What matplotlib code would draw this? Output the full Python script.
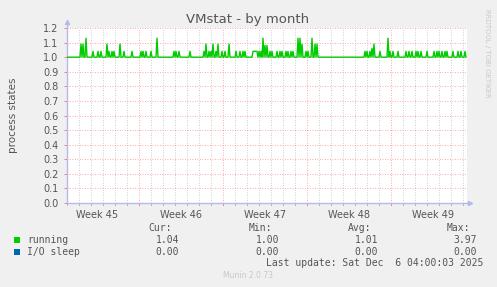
import numpy as np
import matplotlib
matplotlib.use('Agg')
import matplotlib.pyplot as plt

# month graph: 400 samples of 2h, baseline value 1.0, spikes below
n_samples = 400
baseline = 1.0
spike_idx = [14, 16, 19, 26, 31, 34, 40, 42, 45, 47, 53, 57, 65, 74, 76, 79, 84, 90,
             107, 109, 112, 123, 137, 139, 142, 144, 146, 149, 151, 155, 158, 162,
             169, 173, 176, 178, 186, 187, 188, 189, 190, 192, 194, 196, 198, 200,
             203, 205, 210, 213, 215, 219, 221, 224, 226, 231, 233, 235, 239, 241,
             245, 248, 250, 298, 300, 303, 305, 307, 313, 321, 323, 326, 331, 339,
             342, 345, 349, 351, 354, 360, 367, 370, 372, 375, 378, 380, 386, 391,
             394, 398]
spike_val = [1.09, 1.09, 1.13, 1.04, 1.04, 1.04, 1.09, 1.04, 1.04, 1.04, 1.09, 1.04, 1.04, 1.04, 1.04, 1.04, 1.04, 1.13,
             1.04, 1.04, 1.04, 1.04, 1.04, 1.09, 1.04, 1.04, 1.09, 1.04, 1.09, 1.04, 1.04, 1.09,
             1.04, 1.04, 1.04, 1.04, 1.04, 1.04, 1.04, 1.04, 1.04, 1.04, 1.04, 1.13, 1.08, 1.08,
             1.04, 1.04, 1.04, 1.04, 1.04, 1.04, 1.04, 1.04, 1.04, 1.13, 1.13, 1.09, 1.04, 1.04,
             1.13, 1.09, 1.09, 1.04, 1.04, 1.04, 1.06, 1.09, 1.04, 1.13, 1.04, 1.04, 1.04, 1.04,
             1.04, 1.04, 1.04, 1.04, 1.04, 1.04, 1.04, 1.04, 1.04, 1.04, 1.04, 1.04, 1.04, 1.04,
             1.04, 1.04]
sleep_val = 0.0

week_labels = ['Week 45', 'Week 46', 'Week 47', 'Week 48', 'Week 49']
week_starts = [72, 156, 240, 324]
week_mids = [30, 114, 198, 282, 366]

legend_names = ['running', 'I/O sleep']
legend_colors = ['#00CC00', '#0066B3']
stat_heads = ['Cur:', 'Min:', 'Avg:', 'Max:']
stat_vals = [['1.04', '1.00', '1.01', '3.97'],
             ['0.00', '0.00', '0.00', '0.00']]

running = np.full(n_samples, baseline)
running[spike_idx] = spike_val
sleep = np.full(n_samples, sleep_val)

W, H = 497, 287
fig = plt.figure(figsize=(W / 100, H / 100), dpi=100, facecolor='#F0F0F0')
ax = fig.add_axes([67 / W, 1 - 203 / H, 400 / W, 175 / H], facecolor='white')

txt = '#555555'
axcol = '#B4BAEC'

ax.set_xlim(0, n_samples)
ax.set_ylim(0, 1.2)

# grid
for i in range(0, n_samples, 12):
    if i in week_starts:
        continue
    ax.axvline(i, color=(0.6, 0.6, 0.6, 0.65), lw=0.6, ls=(0, (1, 2)), zorder=1)
for i in week_starts:
    ax.axvline(i, color=(1, 0.3, 0.3, 0.65), lw=0.6, ls=(0, (1, 2)), zorder=1)
for v in np.arange(1, 13) / 10:
    ax.axhline(v, color=(1, 0.3, 0.3, 0.65), lw=0.6, ls=(0, (1, 2)), zorder=1)

x = np.arange(n_samples)
ax.plot(x, running, color='#00CC00', lw=1.0, zorder=3)

for s in ['top', 'right']:
    ax.spines[s].set_visible(False)
for s in ['bottom', 'left']:
    ax.spines[s].set_color(axcol)
    ax.spines[s].set_linewidth(1.0)

ax.set_yticks(np.arange(13) / 10)
ax.set_yticklabels(['%.1f' % v for v in np.arange(13) / 10])
ax.set_xticks(week_mids)
ax.set_xticklabels(week_labels)
ax.tick_params(axis='x', length=0, pad=5, labelsize=7, labelcolor=txt)
ax.tick_params(axis='y', length=2, width=0.6, color=(1, 0.4, 0.4), pad=4, labelsize=7, labelcolor=txt)
for i in range(0, n_samples, 12):
    c = (1, 0.4, 0.4) if i in week_starts else (0.65, 0.65, 0.65)
    ax.plot([i, i], [0, -0.012], color=c, lw=0.6, clip_on=False, zorder=2)

# axis arrows
ax.plot([0], [1.24], marker='^', color=axcol, ms=3, clip_on=False, zorder=5)
ax.plot([0, 0], [1.2, 1.23], color=axcol, lw=1, clip_on=False)
ax.plot([403], [0], marker='>', color=axcol, ms=3, clip_on=False, zorder=5)
ax.plot([400, 402], [0, 0], color=axcol, lw=1, clip_on=False)

ax.set_ylabel('process states', fontsize=7.5, color=txt, labelpad=18)
fig.text(248 / W, 1 - 19 / H, 'VMstat - by month', ha='center', va='center', fontsize=9.5, color=txt)
fig.text(487 / W, 1 - 53 / H, 'RRDTOOL / TOBI OETIKER', rotation=-90, ha='center', va='center',
         fontsize=5, color='#C8C8C8')

mono = 'DejaVu Sans Mono'
head_right = [172, 272, 371, 470]
val_right = [179, 279, 378, 477]
for h, r in zip(stat_heads, head_right):
    fig.text(r / W, 1 - 228 / H, h, ha='right', va='center', fontsize=7, family=mono, color=txt)
for k, (name, col) in enumerate(zip(legend_names, legend_colors)):
    yc = 240 + k * 11.7
    fig.patches.append(plt.Rectangle((14 / W, 1 - (yc + 3) / H), 5.5 / W, 6 / H,
                                     transform=fig.transFigure, facecolor=col, edgecolor='none'))
    fig.text(27 / W, 1 - yc / H, name, ha='left', va='center', fontsize=7, family=mono, color=txt)
    for v, r in zip(stat_vals[k], val_right):
        fig.text(r / W, 1 - yc / H, v, ha='right', va='center', fontsize=7, family=mono, color=txt)
fig.text(483 / W, 1 - 263.5 / H, 'Last update: Sat Dec  6 04:00:03 2025', ha='right', va='center',
         fontsize=7, family=mono, color=txt)
fig.text(248 / W, 1 - 276 / H, 'Munin 2.0.73', ha='center', va='center', fontsize=5.5, color='#C8C8C8')

fig.savefig('out.png', dpi=100, facecolor=fig.get_facecolor())
